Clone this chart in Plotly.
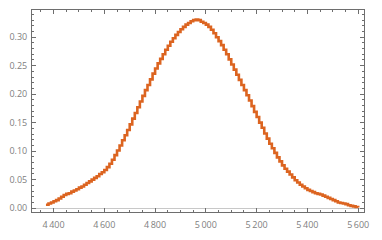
import plotly.graph_objects as go

x_vals = list(range(4370, 5601, 10))
y_vals = [
    0.006, 0.008, 0.010, 0.012, 0.014, 0.017, 0.020, 0.023, 0.025, 0.026,
    0.029, 0.031, 0.033, 0.036, 0.038, 0.041, 0.044, 0.047, 0.050, 0.053,
    0.056, 0.060, 0.063, 0.067, 0.072, 0.078, 0.085, 0.093, 0.101, 0.110,
    0.119, 0.128, 0.137, 0.147, 0.157, 0.167, 0.177, 0.187, 0.197, 0.207,
    0.216, 0.226, 0.236, 0.245, 0.254, 0.262, 0.270, 0.278, 0.285, 0.292,
    0.298, 0.304, 0.309, 0.314, 0.318, 0.322, 0.325, 0.328, 0.330, 0.331,
    0.330, 0.327, 0.325, 0.322, 0.318, 0.313, 0.307, 0.300, 0.293, 0.286,
    0.278, 0.270, 0.261, 0.252, 0.243, 0.234, 0.225, 0.216, 0.207, 0.198,
    0.189, 0.179, 0.169, 0.160, 0.150, 0.141, 0.131, 0.122, 0.113, 0.105,
    0.097, 0.089, 0.082, 0.075, 0.069, 0.064, 0.059, 0.054, 0.049, 0.045,
    0.041, 0.038, 0.035, 0.032, 0.030, 0.028, 0.026, 0.025, 0.024, 0.022,
    0.020, 0.018, 0.016, 0.014, 0.012, 0.010, 0.009, 0.008, 0.007, 0.005,
    0.004, 0.003, 0.002, 0.001,
]

x_ticks = [4400, 4600, 4800, 5000, 5200, 5400, 5600]
x_tick_labels = ["4\u2009400", "4\u2009600", "4\u2009800", "5\u2009000", "5\u2009200", "5\u2009400", "5\u2009600"]
y_ticks = [0.00, 0.05, 0.10, 0.15, 0.20, 0.25, 0.30]
y_tick_labels = ["0.00", "0.05", "0.10", "0.15", "0.20", "0.25", "0.30"]

fig = go.Figure()
fig.add_trace(go.Scatter(
    x=x_vals, y=y_vals, mode="lines",
    line=dict(color="#dc6420", width=2.6, shape="hv"),
    showlegend=False,
))

axis_common = dict(
    showgrid=False,
    showline=True, linecolor="#6e6e6e", linewidth=1, mirror="ticks",
    ticks="inside", tickcolor="#6e6e6e", ticklen=4, tickwidth=1,
    tickfont=dict(family="Open Sans", size=9, color="#808080"),
)

fig.update_xaxes(
    range=[4315, 5623],
    tickvals=x_ticks, ticktext=x_tick_labels,
    zeroline=False,
    minor=dict(dtick=50, tick0=0, ticks="inside", ticklen=2, tickcolor="#6e6e6e", showgrid=False),
    ticklabelstandoff=4,
    **axis_common,
)
fig.update_yaxes(
    range=[-0.0068, 0.3477],
    tickvals=y_ticks, ticktext=y_tick_labels,
    zeroline=True, zerolinecolor="#c8c8c8", zerolinewidth=1,
    minor=dict(dtick=0.01, tick0=0, ticks="inside", ticklen=2, tickcolor="#6e6e6e", showgrid=False),
    ticklabelstandoff=2,
    **axis_common,
)

fig.update_layout(
    width=382, height=240,
    margin=dict(l=26, r=18, t=9, b=23),
    paper_bgcolor="white", plot_bgcolor="white",
)

fig.write_html("out.html")
